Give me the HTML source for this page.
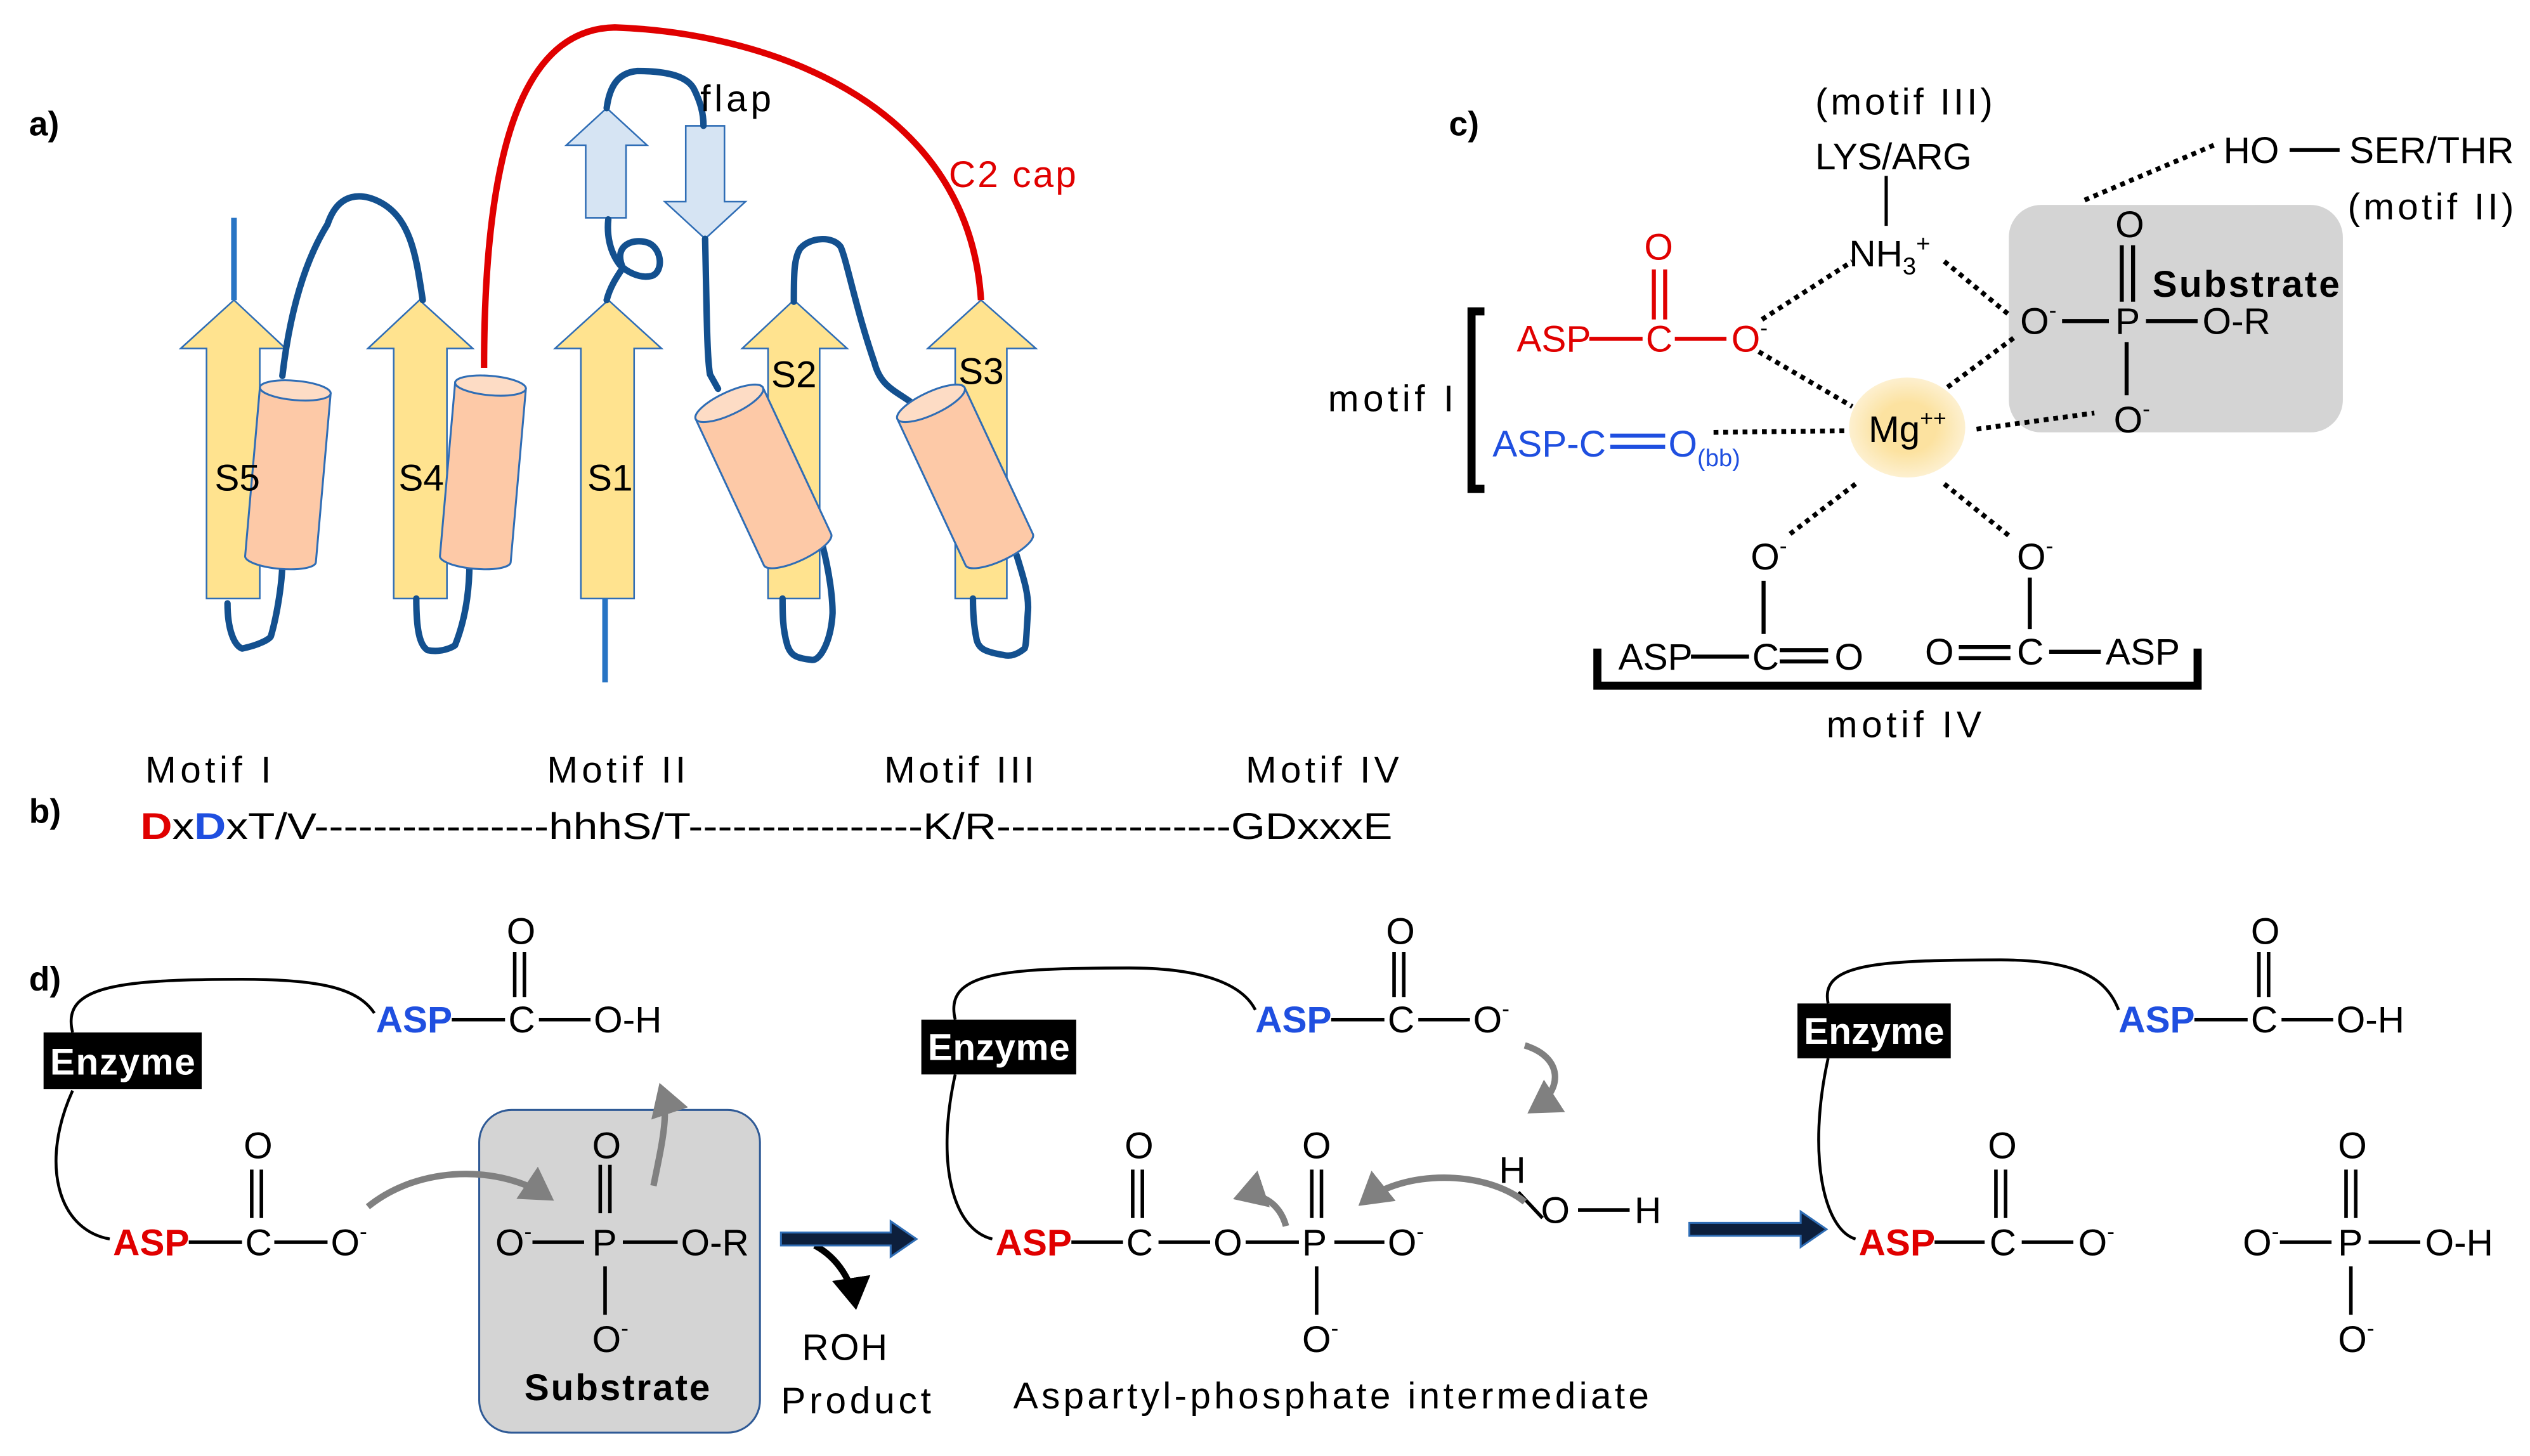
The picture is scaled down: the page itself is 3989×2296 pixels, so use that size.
<!DOCTYPE html>
<html><head><meta charset="utf-8"><style>html,body{margin:0;padding:0;background:#fff}svg{display:block}</style></head><body>
<svg width="3989" height="2296" viewBox="0 0 1568 902.5" xmlns="http://www.w3.org/2000/svg" font-family="Liberation Sans, sans-serif" font-size="23">
<defs>
<marker id="ga" markerWidth="6" markerHeight="6" refX="4" refY="3" orient="auto" markerUnits="strokeWidth"><path d="M0,0 L5,3 L0,6 z" fill="#808080"/></marker>
<marker id="ka" markerWidth="6" markerHeight="6" refX="4" refY="3" orient="auto" markerUnits="strokeWidth"><path d="M0,0 L5,3 L0,6 z" fill="#000"/></marker>
<radialGradient id="mg"><stop offset="0.5" stop-color="#FCE2A0"/><stop offset="1" stop-color="#FDF0D0"/></radialGradient>
</defs>
<!-- Panel a -->
<text x="18" y="84" font-weight="bold" font-size="21">a)</text>
<g fill="#FFE38F" stroke="#2F6DB5" stroke-width="1">
<path d="M145,186 L177,216 L161,216 L161,371 L128,371 L128,216 L112,216 Z"/>
<path d="M260,186 L293,216 L277,216 L277,371 L244,371 L244,216 L228,216 Z"/>
<path d="M377,186 L410,216 L393,216 L393,371 L360,371 L360,216 L344,216 Z"/>
<path d="M492,186 L525,216 L508,216 L508,371 L476,371 L476,216 L460,216 Z"/>
<path d="M608,186 L642,216 L624,216 L624,371 L592,371 L592,216 L575,216 Z"/>
</g>
<g fill="#D6E4F3" stroke="#2F6DB5" stroke-width="1">
<path d="M376,67 L401,90 L388,90 L388,135 L363,135 L363,90 L351,90 Z"/>
<path d="M425,78 L449,78 L449,125 L462,125 L437,148 L412,125 L425,125 Z"/>
</g>
<g fill="none" stroke="#2874C4" stroke-width="3.5"><line x1="145" y1="135" x2="145" y2="186"/><line x1="375" y1="371" x2="375" y2="423"/></g>
<g fill="none" stroke="#13508F" stroke-width="4" stroke-linejoin="round" stroke-linecap="round">
<path d="M175,233 C180,190 190,160 203,139 C210,118 225,120 235,125 C255,135 258,160 262,186"/>
<path d="M141,374 C141,390 145,400 150,402 C160,400 168,396 168,394 C172,380 175,360 175,348"/>
<path d="M258,371 C258,390 260,400 265,403 C275,405 282,400 282,400 C290,380 291,360 291,347"/>
<path d="M376,186 C378,178 382,172 386,166 C380,152 392,148 400,150 C410,152 412,168 404,171 C396,173 388,168 384,164 C378,156 376,146 377,136"/>
<path d="M376,67 C378,52 384,45 395,44 C410,44 425,46 430,55 C434,63 436,70 436,78"/>
<path d="M437,148 C438,190 438,220 440,232 L445,241"/>
<path d="M492,187 C492,170 492,160 496,154 C502,147 516,146 521,153 C525,162 530,190 542,225 C546,240 555,242 567,251"/>
<path d="M510,339 C514,355 516,370 516,380 C515,398 508,410 503,409 C493,408 490,406 488,400 C485,390 485,380 485,371"/>
<path d="M630,344 C635,360 638,370 637,380 C636,395 636,400 635,402 C630,406 626,407 622,406 C610,404 606,402 605,395 C603,385 603,375 603,371"/>
</g>
<g fill="#FDC9A7" stroke="#2F6DB5" stroke-width="1.2">
<g transform="translate(183,242) rotate(5)"><path d="M-22,0 L-22,105 A22,6 0 0 0 22,105 L22,0 Z"/><ellipse cx="0" cy="0" rx="22" ry="6" fill="#FDDCC5"/></g>
<g transform="translate(304,239) rotate(5)"><path d="M-22,0 L-22,108 A22,6 0 0 0 22,108 L22,0 Z"/><ellipse cx="0" cy="0" rx="22" ry="6" fill="#FDDCC5"/></g>
<g transform="translate(452,250) rotate(-25)"><path d="M-23,0 L-23,100 A23,7 0 0 0 23,100 L23,0 Z"/><ellipse cx="0" cy="0" rx="23" ry="7" fill="#FDDCC5"/></g>
<g transform="translate(577,250) rotate(-25)"><path d="M-23,0 L-23,100 A23,7 0 0 0 23,100 L23,0 Z"/><ellipse cx="0" cy="0" rx="23" ry="7" fill="#FDDCC5"/></g>
</g>
<path d="M300,228 C300,90 325,18 381,17 C470,20 600,60 608,186" fill="none" stroke="#E00000" stroke-width="4"/>
<text x="434" y="69" textLength="44">flap</text>
<text x="588" y="116" fill="#E00000" textLength="79">C2 cap</text>
<g font-size="23"><text x="133" y="304">S5</text><text x="247" y="304">S4</text><text x="364" y="304">S1</text><text x="478" y="240">S2</text><text x="594" y="238">S3</text></g>
<!-- Panel b -->
<text x="18" y="510" font-weight="bold" font-size="21">b)</text>
<text x="90" y="485" textLength="78">Motif I</text><text x="339" y="485" textLength="86">Motif II</text><text x="548" y="485" textLength="93">Motif III</text><text x="772" y="485" textLength="95">Motif IV</text>
<text x="87" y="520" textLength="776" lengthAdjust="spacingAndGlyphs"><tspan fill="#E00000" font-weight="bold">D</tspan>x<tspan fill="#1F4FE0" font-weight="bold">D</tspan>xT/V----------------hhhS/T----------------K/R----------------GDxxxE</text>
<!-- Panel c -->
<text x="898" y="84" font-weight="bold" font-size="21">c)</text>
<rect x="1245" y="127" width="207" height="141" rx="20" fill="#D4D4D4"/>
<text x="1125" y="71" textLength="110">(motif III)</text>
<text x="1125" y="105" textLength="97">LYS/ARG</text>
<line x1="1169" y1="109" x2="1169" y2="140" stroke="#000" stroke-width="2"/>
<text x="1146" y="165">NH<tspan font-size="15" dy="5">3</tspan><tspan font-size="15" dy="-14">+</tspan></text>
<text x="1378" y="101">HO</text><line x1="1419" y1="93" x2="1450" y2="93" stroke="#000" stroke-width="2.5"/><text x="1456" y="101" textLength="102">SER/THR</text>
<text x="1455" y="136" textLength="103">(motif II)</text>
<text x="1311" y="147">O</text>
<g stroke="#000" stroke-width="2.5"><line x1="1315" y1="152" x2="1315" y2="187"/><line x1="1322" y1="152" x2="1322" y2="187"/><line x1="1278" y1="199" x2="1307" y2="199"/><line x1="1330" y1="199" x2="1362" y2="199"/><line x1="1318" y1="212" x2="1318" y2="245"/></g>
<text x="1311" y="207">P</text>
<text x="1252" y="207">O<tspan font-size="14" dy="-10">-</tspan></text>
<text x="1365" y="207">O-R</text>
<text x="1334" y="184" font-weight="bold" textLength="116">Substrate</text>
<text x="1310" y="268">O<tspan font-size="14" dy="-10">-</tspan></text>
<g fill="#E00000"><text x="940" y="218">ASP</text><text x="1020" y="218">C</text><text x="1019" y="161">O</text><text x="1073" y="218">O<tspan font-size="14" dy="-10" fill="#000">-</tspan></text></g>
<g stroke="#E00000" stroke-width="2.5"><line x1="985" y1="210" x2="1018" y2="210"/><line x1="1025" y1="167" x2="1025" y2="198"/><line x1="1032" y1="167" x2="1032" y2="198"/><line x1="1038" y1="210" x2="1070" y2="210"/></g>
<path d="M920,193 L912,193 L912,303 L920,303" fill="none" stroke="#000" stroke-width="5"/>
<text x="823" y="255" textLength="78">motif I</text>
<g fill="#1F4FE0"><text x="925" y="283">ASP-C</text><text x="1034" y="283">O<tspan font-size="15" dy="6">(bb)</tspan></text></g>
<g stroke="#1F4FE0" stroke-width="2.5"><line x1="998" y1="270" x2="1032" y2="270"/><line x1="998" y1="277" x2="1032" y2="277"/></g>
<ellipse cx="1182" cy="265" rx="36" ry="31" fill="url(#mg)"/>
<text x="1158" y="274">Mg<tspan font-size="14" dy="-10">++</tspan></text>
<g stroke="#000" stroke-width="3" stroke-dasharray="3,3"><line x1="1092" y1="198" x2="1148" y2="162"/><line x1="1090" y1="218" x2="1148" y2="252"/><line x1="1062" y1="268" x2="1143" y2="267"/><line x1="1205" y1="162" x2="1245" y2="195"/><line x1="1207" y1="240" x2="1250" y2="208"/><line x1="1225" y1="266" x2="1298" y2="256"/><line x1="1150" y1="300" x2="1108" y2="332"/><line x1="1205" y1="300" x2="1245" y2="332"/><line x1="1292" y1="124" x2="1372" y2="90"/></g>
<text x="1085" y="353">O<tspan font-size="14" dy="-10">-</tspan></text>
<text x="1250" y="353">O<tspan font-size="14" dy="-10">-</tspan></text>
<text x="1003" y="415">ASP</text><text x="1086" y="415">C</text><text x="1137" y="415">O</text>
<text x="1193" y="412">O</text><text x="1250" y="412">C</text><text x="1305" y="412">ASP</text>
<g stroke="#000" stroke-width="2.5"><line x1="1093" y1="360" x2="1093" y2="393"/><line x1="1048" y1="407" x2="1084" y2="407"/><line x1="1103" y1="403" x2="1133" y2="403"/><line x1="1103" y1="410" x2="1133" y2="410"/><line x1="1258" y1="358" x2="1258" y2="390"/><line x1="1214" y1="401" x2="1246" y2="401"/><line x1="1214" y1="408" x2="1246" y2="408"/><line x1="1270" y1="404" x2="1302" y2="404"/></g>
<path d="M990,402 L990,425 L1362,425 L1362,402" fill="none" stroke="#000" stroke-width="5"/>
<text x="1132" y="457" textLength="96">motif IV</text>
<!-- Panel d -->
<text x="18" y="614" font-weight="bold" font-size="21">d)</text>
<g fill="none" stroke="#000" stroke-width="1.8">
<path d="M45,640 C38,612 70,607 150,607 C200,607 222,613 232,628"/>
<path d="M45,676 C25,720 35,762 68,768"/>
<path d="M592,632 C585,603 620,600 700,600 C745,600 770,610 778,626"/>
<path d="M592,666 C580,720 590,762 615,768"/>
<path d="M1133,622 C1128,598 1160,595 1240,595 C1285,595 1305,605 1313,626"/>
<path d="M1133,656 C1120,715 1130,762 1150,768"/>
</g>
<rect x="27" y="640" width="98" height="35" fill="#000"/><text x="31" y="666" fill="#fff" font-weight="bold" textLength="90">Enzyme</text>
<rect x="571" y="632" width="96" height="34" fill="#000"/><text x="575" y="657" fill="#fff" font-weight="bold" textLength="88">Enzyme</text>
<rect x="1114" y="622" width="95" height="34" fill="#000"/><text x="1118" y="647" fill="#fff" font-weight="bold" textLength="87">Enzyme</text>
<rect x="297" y="688" width="174" height="200" rx="20" fill="#D4D4D4" stroke="#2F5A96" stroke-width="1.2"/>
<g fill="#1F4FE0" font-weight="bold"><text x="233" y="640">ASP</text><text x="778" y="640">ASP</text><text x="1313" y="640">ASP</text></g>
<g fill="#E00000" font-weight="bold"><text x="70" y="778">ASP</text><text x="617" y="778">ASP</text><text x="1152" y="778">ASP</text></g>
<g stroke="#000" stroke-width="2.2">
<line x1="280" y1="632" x2="313" y2="632"/><line x1="319" y1="590" x2="319" y2="618"/><line x1="325" y1="590" x2="325" y2="618"/><line x1="334" y1="632" x2="366" y2="632"/>
<line x1="117" y1="770" x2="150" y2="770"/><line x1="156" y1="725" x2="156" y2="755"/><line x1="162" y1="725" x2="162" y2="755"/><line x1="170" y1="770" x2="203" y2="770"/>
<line x1="372" y1="722" x2="372" y2="752"/><line x1="378" y1="722" x2="378" y2="752"/><line x1="330" y1="770" x2="362" y2="770"/><line x1="386" y1="770" x2="420" y2="770"/><line x1="375" y1="785" x2="375" y2="815"/>
<line x1="825" y1="632" x2="858" y2="632"/><line x1="864" y1="590" x2="864" y2="618"/><line x1="870" y1="590" x2="870" y2="618"/><line x1="879" y1="632" x2="911" y2="632"/>
<line x1="941" y1="739" x2="956" y2="755"/><line x1="978" y1="750" x2="1010" y2="750"/>
<line x1="664" y1="770" x2="696" y2="770"/><line x1="702" y1="725" x2="702" y2="755"/><line x1="708" y1="725" x2="708" y2="755"/><line x1="718" y1="770" x2="750" y2="770"/><line x1="772" y1="770" x2="805" y2="770"/><line x1="813" y1="725" x2="813" y2="755"/><line x1="819" y1="725" x2="819" y2="755"/><line x1="827" y1="770" x2="858" y2="770"/><line x1="816" y1="785" x2="816" y2="815"/>
<line x1="1360" y1="632" x2="1393" y2="632"/><line x1="1400" y1="590" x2="1400" y2="618"/><line x1="1406" y1="590" x2="1406" y2="618"/><line x1="1414" y1="632" x2="1446" y2="632"/>
<line x1="1199" y1="770" x2="1230" y2="770"/><line x1="1237" y1="725" x2="1237" y2="755"/><line x1="1243" y1="725" x2="1243" y2="755"/><line x1="1253" y1="770" x2="1285" y2="770"/>
<line x1="1413" y1="770" x2="1445" y2="770"/><line x1="1454" y1="725" x2="1454" y2="755"/><line x1="1460" y1="725" x2="1460" y2="755"/><line x1="1468" y1="770" x2="1500" y2="770"/><line x1="1457" y1="785" x2="1457" y2="815"/>
</g>
<g>
<text x="314" y="585">O</text><text x="315" y="640">C</text><text x="368" y="640">O-H</text>
<text x="151" y="718">O</text><text x="152" y="778">C</text><text x="205" y="778">O<tspan font-size="14" dy="-10">-</tspan></text>
<text x="367" y="718">O</text><text x="367" y="778">P</text><text x="307" y="778">O<tspan font-size="14" dy="-10">-</tspan></text><text x="422" y="778">O-R</text><text x="367" y="838">O<tspan font-size="14" dy="-10">-</tspan></text>
<text x="325" y="868" font-weight="bold" textLength="115">Substrate</text>
<text x="497" y="843" textLength="53">ROH</text><text x="484" y="876" textLength="93">Product</text>
<text x="859" y="585">O</text><text x="860" y="640">C</text><text x="913" y="640">O<tspan font-size="14" dy="-10">-</tspan></text>
<text x="929" y="733">H</text><text x="955" y="758">O</text><text x="1013" y="758">H</text>
<text x="697" y="718">O</text><text x="698" y="778">C</text><text x="752" y="778">O</text><text x="807" y="778">P</text><text x="807" y="718">O</text><text x="860" y="778">O<tspan font-size="14" dy="-10">-</tspan></text><text x="807" y="838">O<tspan font-size="14" dy="-10">-</tspan></text>
<text x="628" y="873" textLength="394">Aspartyl-phosphate intermediate</text>
<text x="1395" y="585">O</text><text x="1395" y="640">C</text><text x="1448" y="640">O-H</text>
<text x="1232" y="718">O</text><text x="1233" y="778">C</text><text x="1288" y="778">O<tspan font-size="14" dy="-10">-</tspan></text>
<text x="1390" y="778">O<tspan font-size="14" dy="-10">-</tspan></text><text x="1449" y="778">P</text><text x="1449" y="718">O</text><text x="1503" y="778">O-H</text><text x="1449" y="838">O<tspan font-size="14" dy="-10">-</tspan></text>
</g>
<g fill="none" stroke="#808080" stroke-width="4">
<path d="M228,748 C260,722 310,722 340,742" marker-end="url(#ga)"/>
<path d="M405,735 C410,710 415,690 410,675" marker-end="url(#ga)"/>
<path d="M945,648 C968,655 970,675 950,688" marker-end="url(#ga)"/>
<path d="M945,745 C920,725 870,725 845,745" marker-end="url(#ga)"/>
<path d="M797,760 C793,745 780,738 768,742" marker-end="url(#ga)"/>
</g>
<path d="M505,772 C520,780 528,795 530,808" fill="none" stroke="#000" stroke-width="4" marker-end="url(#ka)"/>
<g fill="#0D1F3C" stroke="#2F6DB5" stroke-width="1.2">
<path d="M484,764 L552,764 L552,757 L568,768 L552,779 L552,772 L484,772 Z"/>
<path d="M1047,758 L1116,758 L1116,751 L1132,762 L1116,773 L1116,766 L1047,766 Z"/>
</g>
</svg>
</body></html>
